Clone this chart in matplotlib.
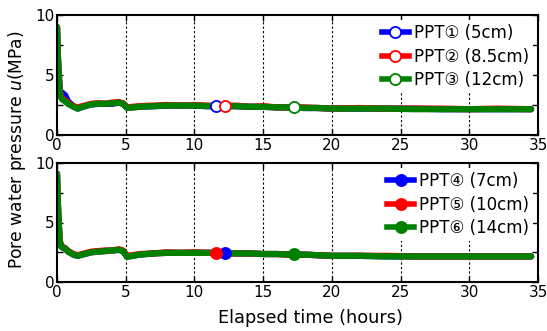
import matplotlib
matplotlib.use("Agg")
import matplotlib.pyplot as plt
from matplotlib.ticker import MultipleLocator

plt.rcParams['font.family'] = ['DejaVu Sans', 'Noto Sans CJK JP']

# Elapsed time (hours)
t = [0, 0.05, 0.1, 0.2, 0.3, 0.4, 0.6, 0.8, 1.2, 1.5, 2.0, 2.5, 3.0, 3.5, 4.0, 4.5, 4.8,
     5.1, 5.5, 6, 7, 8, 9, 10, 11, 12, 13, 14, 15, 16, 17, 18, 19, 20,
     22, 24, 26, 28, 30, 32, 34.5]

# Top panel series (MPa)
ppt1 = [9.0, 7.0, 5.6, 3.8, 3.4, 3.5, 3.3, 2.8, 2.4, 2.2, 2.4, 2.55, 2.6, 2.6, 2.6, 2.7, 2.6,
        2.3, 2.3, 2.35, 2.4, 2.45, 2.45, 2.45, 2.4, 2.4, 2.4, 2.35, 2.35, 2.3, 2.3, 2.25, 2.25, 2.2,
        2.2, 2.2, 2.2, 2.15, 2.15, 2.15, 2.15]
ppt2 = [9.0, 7.1, 5.7, 3.7, 3.2, 3.0, 2.9, 2.7, 2.4, 2.3, 2.45, 2.6, 2.65, 2.6, 2.7, 2.75, 2.65,
        2.3, 2.35, 2.4, 2.45, 2.5, 2.45, 2.5, 2.45, 2.4, 2.45, 2.35, 2.4, 2.3, 2.3, 2.3, 2.25, 2.2,
        2.25, 2.2, 2.2, 2.2, 2.15, 2.2, 2.15]
ppt3 = [9.0, 7.0, 5.5, 3.5, 3.1, 2.95, 2.8, 2.6, 2.35, 2.2, 2.4, 2.55, 2.6, 2.6, 2.65, 2.7, 2.6,
        2.25, 2.3, 2.35, 2.4, 2.45, 2.45, 2.45, 2.4, 2.4, 2.4, 2.35, 2.35, 2.3, 2.3, 2.25, 2.25, 2.2,
        2.2, 2.2, 2.15, 2.15, 2.15, 2.15, 2.15]

# Bottom panel series (MPa)
ppt4 = [9.1, 7.0, 5.5, 3.4, 3.0, 2.9, 2.8, 2.6, 2.3, 2.2, 2.35, 2.5, 2.55, 2.6, 2.65, 2.7, 2.6,
        2.15, 2.2, 2.3, 2.4, 2.45, 2.45, 2.45, 2.45, 2.45, 2.4, 2.4, 2.35, 2.35, 2.3, 2.3, 2.25, 2.2,
        2.2, 2.15, 2.15, 2.15, 2.15, 2.15, 2.15]
ppt5 = [9.1, 7.1, 5.6, 3.5, 3.05, 2.95, 2.85, 2.6, 2.35, 2.25, 2.4, 2.55, 2.6, 2.65, 2.65, 2.75, 2.65,
        2.2, 2.25, 2.35, 2.4, 2.5, 2.45, 2.5, 2.45, 2.45, 2.4, 2.4, 2.35, 2.35, 2.3, 2.3, 2.25, 2.2,
        2.2, 2.2, 2.15, 2.15, 2.15, 2.15, 2.15]
ppt6 = [9.1, 7.0, 5.5, 3.4, 3.0, 2.9, 2.8, 2.55, 2.3, 2.2, 2.35, 2.5, 2.55, 2.6, 2.65, 2.7, 2.6,
        2.1, 2.2, 2.3, 2.4, 2.45, 2.45, 2.45, 2.45, 2.45, 2.4, 2.4, 2.35, 2.35, 2.3, 2.3, 2.25, 2.2,
        2.2, 2.15, 2.15, 2.15, 2.15, 2.15, 2.15]

# marker positions (time, value)
top_markers = {'ppt1': [(11.6, 2.45)], 'ppt2': [(12.2, 2.45)], 'ppt3': [(17.25, 2.35)]}
bot_markers = {'ppt4': [(12.2, 2.45)], 'ppt5': [(11.6, 2.45)], 'ppt6': [(17.25, 2.35)]}

labels_top = ['PPT\u2460 (5cm)', 'PPT\u2461 (8.5cm)', 'PPT\u2462 (12cm)']
labels_bot = ['PPT\u2463 (7cm)', 'PPT\u2464 (10cm)', 'PPT\u2465 (14cm)']
colors = ['#0000ff', '#ff0000', '#008000']

fig = plt.figure(figsize=(5.47, 3.31), dpi=100)
ax1 = fig.add_axes([57/547, 1-135/331, 481/547, 120/331])
ax2 = fig.add_axes([57/547, 1-282/331, 481/547, 119/331])

def style(ax):
    ax.set_xlim(0, 35)
    ax.set_ylim(0, 10)
    ax.xaxis.set_major_locator(MultipleLocator(5))
    ax.yaxis.set_major_locator(MultipleLocator(5))
    ax.yaxis.set_minor_locator(MultipleLocator(2.5))
    ax.tick_params(which='both', direction='in', top=True, right=True, labelsize=11, pad=2)
    ax.tick_params(which='major', length=4, width=1)
    ax.tick_params(which='minor', length=4, width=1)
    for s in ax.spines.values():
        s.set_linewidth(1.5)
    for xv in range(5, 35, 5):
        ax.axvline(xv, color='black', lw=0.8, ls=(0, (2, 2)), zorder=0.5)

def draw(ax, series, markers, labels, filled):
    handles = []
    for (key, y), c, lab in zip(series, colors, labels):
        ax.plot(t, y, color=c, lw=4.5, solid_capstyle='round', zorder=2)
        for (mx, my) in markers.get(key, []):
            ax.plot([mx], [my], 'o', ms=8, mec=c, mew=1.3,
                    mfc=(c if filled else 'white'), zorder=3)
        h, = ax.plot([], [], color=c, lw=4, marker='o', ms=8, mec=c, mew=1.3,
                     mfc=(c if filled else 'white'))
        handles.append(h)
    leg = ax.legend(handles, labels, loc='upper right', fontsize=12, frameon=True,
                    framealpha=1, edgecolor='none', facecolor='white',
                    handlelength=1.6, handletextpad=0.3, labelspacing=0.32,
                    borderaxespad=0.3, borderpad=0.25)
    leg.set_zorder(4)

style(ax1)
style(ax2)
draw(ax1, [('ppt1', ppt1), ('ppt2', ppt2), ('ppt3', ppt3)], top_markers, labels_top, False)
draw(ax2, [('ppt4', ppt4), ('ppt5', ppt5), ('ppt6', ppt6)], bot_markers, labels_bot, True)

fig.text(17/547, 1-150/331, 'Pore water pressure $\\mathit{u}$(MPa)', rotation=90,
         ha='center', va='center', fontsize=12.3)
fig.text(310/547, 1-318/331, 'Elapsed time (hours)', ha='center', va='center', fontsize=12.8)

fig.savefig('out.png', dpi=100)
